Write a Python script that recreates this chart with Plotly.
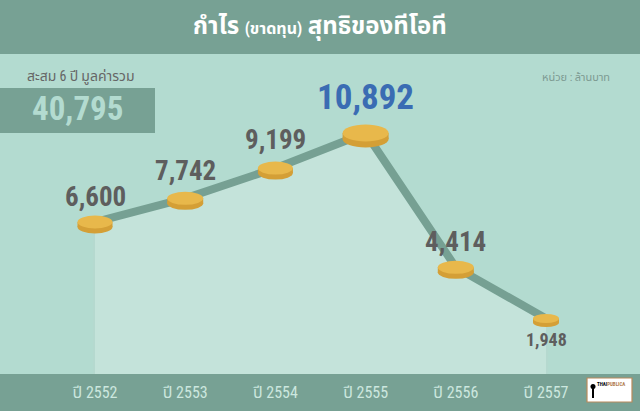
import plotly.graph_objects as go

# ---------------- data ----------------
years = ["ปี 2552", "ปี 2553", "ปี 2554", "ปี 2555", "ปี 2556", "ปี 2557"]
profit = [6600, 7742, 9199, 10892, 4414, 1948]
value_labels = ["6,600", "7,742", "9,199", "10,892", "4,414", "1,948"]
total_label = "40,795"

title_main = "กำไร"
title_paren = "(ขาดทุน)"
title_rest = "สุทธิของทีโอที"
total_caption = "สะสม 6 ปี มูลค่ารวม"
unit_caption = "หน่วย : ล้านบาท"

# ---------------- style ----------------
BG = "#b3dbd0"
BAND = "#77a194"
FILL = "#c4e3da"
STRIPE = "#b5d9cf"
LINE = "#76a093"
COIN_TOP = "#e8b84b"
COIN_SIDE = "#d49f36"
LABEL = "#5e5e5e"
BLUE = "#3a6cb3"
THAI = "Roboto Condensed, Noto Sans Thai, Noto Sans Thai UI, Loma, Garuda, sans-serif"
NUM = "Roboto Condensed, Roboto, sans-serif"

Y_MIN, Y_MAX = -728, 17305
X_MIN, X_MAX = -1.0532, 6.0421

x = list(range(len(years)))

fig = go.Figure()

fig.add_trace(go.Scatter(x=x, y=[Y_MIN] * len(x), mode="lines",
                         line=dict(width=0, color=FILL), hoverinfo="skip", showlegend=False))
fig.add_trace(go.Scatter(x=x, y=profit, mode="lines", fill="tonexty", fillcolor=FILL,
                         line=dict(width=0, color=FILL), hoverinfo="skip", showlegend=False))
fig.add_trace(go.Bar(x=x, y=[v - Y_MIN for v in profit], base=[Y_MIN] * len(x),
                     width=0.035, marker=dict(color=STRIPE, line=dict(width=0)),
                     hoverinfo="skip", showlegend=False))
fig.add_trace(go.Scatter(x=x, y=profit, mode="lines",
                         line=dict(width=8, color=LINE), hoverinfo="skip", showlegend=False))

shapes = []
shapes.append(dict(type="rect", xref="paper", yref="paper", x0=0, x1=1, y0=1 - 54 / 374, y1=1,
                   fillcolor=BAND, line=dict(width=0), layer="below"))
shapes.append(dict(type="rect", xref="paper", yref="paper", x0=0, x1=1, y0=-37 / 374, y1=0,
                   fillcolor=BAND, line=dict(width=0), layer="below"))
shapes.append(dict(type="rect", xref="paper", yref="paper", x0=0, x1=155 / 640,
                   y0=1 - 133 / 374, y1=1 - 88 / 374,
                   fillcolor=BAND, line=dict(width=0), layer="below"))
shapes.append(dict(type="rect", xref="paper", yref="paper", x0=587 / 640, x1=632 / 640,
                   y0=1 - 402 / 374, y1=1 - 378 / 374,
                   fillcolor="white", line=dict(width=1.2, color="#b98a5c"), layer="above"))
shapes.append(dict(type="circle", xref="paper", yref="paper", x0=590.5 / 640, x1=595.5 / 640,
                   y0=1 - 389 / 374, y1=1 - 384 / 374,
                   fillcolor="black", line=dict(width=0), layer="above"))
shapes.append(dict(type="rect", xref="paper", yref="paper", x0=592 / 640, x1=594 / 640,
                   y0=1 - 398 / 374, y1=1 - 387 / 374,
                   fillcolor="black", line=dict(width=0), layer="above"))

coin_w = [35, 36, 35, 46, 36, 26]
coin_h = [13, 13, 13, 17, 13, 9]
coin_t = [5, 5, 5, 6, 5, 4]
for i, v in enumerate(profit):
    w, h, t = coin_w[i], coin_h[i], coin_t[i]
    common = dict(xref="x", yref="y", xanchor=i, yanchor=v,
                  xsizemode="pixel", ysizemode="pixel", layer="above")
    shapes.append(dict(type="circle", x0=-w / 2, x1=w / 2, y0=-t - h / 2, y1=-t + h / 2,
                       fillcolor=COIN_SIDE, line=dict(width=0), **common))
    shapes.append(dict(type="rect", x0=-w / 2, x1=w / 2, y0=-t, y1=0,
                       fillcolor=COIN_SIDE, line=dict(width=0), **common))
    shapes.append(dict(type="circle", x0=-w / 2, x1=w / 2, y0=-h / 2, y1=h / 2,
                       fillcolor=COIN_TOP, line=dict(width=0), **common))

annotations = []
lab_size = [27, 27, 27, 35, 27, 18]
lab_shift = [25, 27, 28, 36, 25, -21]
lab_color = [LABEL, LABEL, LABEL, BLUE, LABEL, LABEL]
for i, v in enumerate(profit):
    annotations.append(dict(x=i, y=v, xref="x", yref="y", text="<b>%s</b>" % value_labels[i],
                            showarrow=False, yshift=lab_shift[i], xanchor="center", yanchor="middle",
                            font=dict(family=NUM, size=lab_size[i], color=lab_color[i])))

annotations.append(dict(x=0.5, y=1 - 27 / 374, xref="paper", yref="paper", showarrow=False,
                        xanchor="center", yanchor="middle",
                        text="<b>%s <span style='font-size:16px'>%s</span> %s</b>" % (title_main, title_paren, title_rest),
                        font=dict(family=THAI, size=24, color="white")))
annotations.append(dict(x=25 / 640, y=1 - 77 / 374, xref="paper", yref="paper", showarrow=False,
                        xanchor="left", yanchor="middle", text=total_caption,
                        font=dict(family=THAI, size=14, color="#666666")))
annotations.append(dict(x=77.5 / 640, y=1 - 108 / 374, xref="paper", yref="paper", showarrow=False,
                        xanchor="center", yanchor="middle", text="<b>%s</b>" % total_label,
                        font=dict(family=NUM, size=33, color=BG)))
annotations.append(dict(x=612 / 640, y=1 - 78 / 374, xref="paper", yref="paper", showarrow=False,
                        xanchor="right", yanchor="middle", text=unit_caption,
                        font=dict(family=THAI, size=11, color="#7d9a92")))
annotations.append(dict(x=611 / 640, y=1 - 384 / 374, xref="paper", yref="paper", showarrow=False,
                        xanchor="center", yanchor="middle",
                        text="<b>THAI<span style='color:#b07a4a'>PUBLICA</span></b>",
                        font=dict(family="Roboto Condensed, Roboto, sans-serif", size=5, color="black")))

fig.update_layout(
    width=640, height=411,
    margin=dict(l=0, r=0, t=0, b=37),
    paper_bgcolor=BG, plot_bgcolor="rgba(0,0,0,0)",
    shapes=shapes, annotations=annotations,
    showlegend=False, bargap=0,
    xaxis=dict(range=[X_MIN, X_MAX], tickmode="array", tickvals=x, ticktext=years,
               showgrid=False, zeroline=False, showline=False, ticks="",
               ticklabelstandoff=7,
               tickfont=dict(family=THAI, size=16, color="#cce7df"), fixedrange=True),
    yaxis=dict(range=[Y_MIN, Y_MAX], visible=False, showgrid=False, zeroline=False, fixedrange=True),
)

fig.write_html("out.html", config={"displayModeBar": False},
               post_script="document.body.style.margin='0';document.body.style.overflow='hidden';")
